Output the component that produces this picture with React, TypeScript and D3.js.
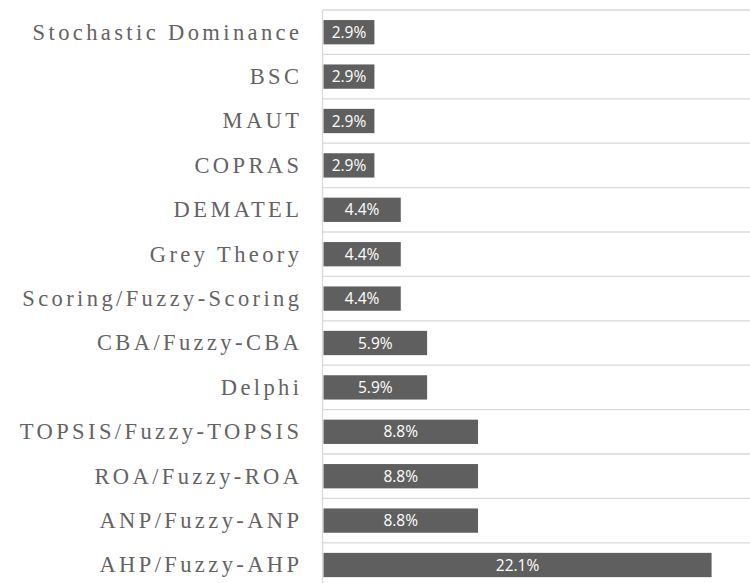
import React from 'react';
import * as d3 from 'd3';

// categories top to bottom, share of papers (%)
const methods = [
  'Stochastic Dominance',
  'BSC',
  'MAUT',
  'COPRAS',
  'DEMATEL',
  'Grey Theory',
  'Scoring/Fuzzy-Scoring',
  'CBA/Fuzzy-CBA',
  'Delphi',
  'TOPSIS/Fuzzy-TOPSIS',
  'ROA/Fuzzy-ROA',
  'ANP/Fuzzy-ANP',
  'AHP/Fuzzy-AHP',
];
const shares = [2.9, 2.9, 2.9, 2.9, 4.4, 4.4, 4.4, 5.9, 5.9, 8.8, 8.8, 8.8, 22.1];

const W = 750;
const H = 583;

export default function App() {
  const x0 = 323.5;
  const x = d3.scaleLinear().domain([0, 24]).range([x0, x0 + 24 * 17.56]);
  const rows = d3.scaleBand<string>().domain(methods).range([10, 10 + 13 * 44.4]);
  const barH = 24.3;
  const data = methods.map((m, i) => ({ m, v: shares[i] }));
  const ls = 3.4;

  return (
    <svg width={W} height={H} style={{ position: 'absolute', left: 0, top: 0, background: '#fff' }}>
      {/* row separators */}
      {methods.map(m => (
        <line key={'g' + m} x1={x0 - 1} x2={W} y1={rows(m)!} y2={rows(m)!} stroke="#d9d9d9" strokeWidth={1.3} />
      ))}
      <line x1={x0 - 1} x2={x0 - 1} y1={10} y2={H} stroke="#d9d9d9" strokeWidth={1.3} />
      {data.map(d => {
        const cy = rows(d.m)! + rows.bandwidth() / 2;
        return (
          <g key={d.m}>
            <rect x={x(0)} y={cy - barH / 2} width={x(d.v) - x(0)} height={barH} fill="#5f5f5f" />
            <text x={(x(0) + x(d.v)) / 2} y={cy} dy="0.36em" textAnchor="middle" fill="#fff"
              fontFamily="'Open Sans', sans-serif" fontSize={15.5}>
              {d.v.toFixed(1)}%
            </text>
            <text x={299 + ls} y={cy} dy="0.33em" textAnchor="end" fill="#636363"
              fontFamily="'Liberation Serif', serif" fontSize={22.5} letterSpacing={ls}>
              {d.m}
            </text>
          </g>
        );
      })}
    </svg>
  );
}
